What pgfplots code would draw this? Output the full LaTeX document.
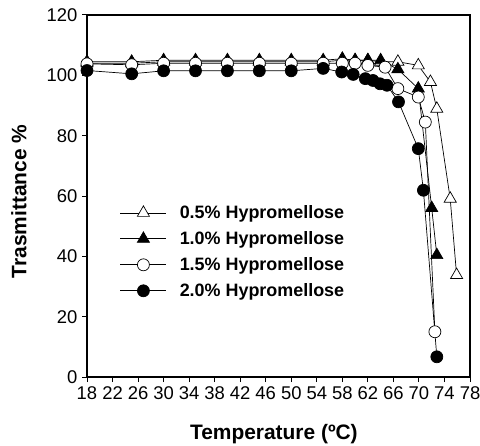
\documentclass[border=0pt]{standalone}
\usepackage{fontspec}
\setmainfont{Liberation Sans}
\usepackage{pgfplots}
\pgfplotsset{compat=1.18}
\newcommand\tlf{\fontsize{18.5}{21}\selectfont}
\begin{document}
\begin{tikzpicture}
\begin{axis}[
  scale only axis,
  width=383bp, height=362bp,
  xmin=18, xmax=78, ymin=0, ymax=120,
  xtick={18,22,...,78},
  ytick={0,20,...,120},
  axis line style={line width=1.1pt},
  tick style={line width=1pt, black},
  tick align=outside,
  major tick length=5bp,
  xtick pos=bottom, ytick pos=left,
  /pgf/number format/assume math mode=true,
  xticklabel={\tlf\pgfmathprintnumber{\tick}},
  yticklabel={\tlf\pgfmathprintnumber{\tick}},
  xticklabel style={yshift=-1bp},
  yticklabel style={xshift=-1bp},
  xlabel={\textbf{Temperature (ºC)}},
  ylabel={\textbf{Trasmittance \%}},
  label style={font=\fontsize{21}{25}\selectfont},
  xlabel style={at={(axis description cs:0.488,-0.157)}, anchor=center},
  ylabel style={at={(axis description cs:-0.178,0.485)}, anchor=center},
  legend style={draw=none, fill=none, at={(axis description cs:0.078,0.485)}, anchor=north west,
    font=\fontsize{18}{22}\selectfont\bfseries, row sep=7.5bp,
    /tikz/every odd column/.append style={column sep=11bp}},
  legend cell align=left,
  legend image code/.code={%
    \draw[mark repeat=2,mark phase=2] plot coordinates {(0bp,0bp)(23bp,0bp)(46bp,0bp)};},
  every axis plot/.append style={black, line width=0.7pt, mark options={solid, line width=0.8pt}},
]
\addplot[mark=triangle*, mark size=7bp, mark options={fill=white}] coordinates {
(18,104) (25,104) (30,104.5) (35,104.5) (40,104.5) (45,104.5) (50,104.5) (55,104.5)
(58,105) (60,105) (62,105) (64,104.5) (66.7,104.5) (69.9,103.3) (71.8,97.8) (72.8,88.9) (74.9,59.1) (75.9,33.8)};
\addlegendentry{0.5\% Hypromellose}
\addplot[mark=triangle*, mark size=7bp, mark options={fill=black}] coordinates {
(18,104.5) (25,104.5) (30,105) (35,105) (40,105) (45,105) (50,105) (55,105)
(58,105.5) (60,105) (62,105) (64,105) (66.7,102) (69.9,95.6) (72,56) (72.8,40.4)};
\addlegendentry{1.0\% Hypromellose}
\addplot[mark=*, mark size=6bp, mark options={fill=white}] coordinates {
(18,103.8) (25,103.5) (30,104) (35,104) (40,104) (45,104) (50,104) (55,104)
(58,104) (60,104) (62,103.3) (64.7,102.7) (66.7,95.6) (69.9,92.8) (71,84.5) (72.5,15)};
\addlegendentry{1.5\% Hypromellose}
\addplot[mark=*, mark size=6bp, mark options={fill=black}] coordinates {
(18,101.6) (25,100.5) (30,101.5) (35,101.5) (40,101.5) (45,101.5) (50,101.5) (55,102.3)
(57.9,101.1) (59.7,100.3) (61.6,98.9) (62.8,98.3) (63.9,97.2) (65,96.7) (66.8,91.2) (69.9,75.7) (70.7,61.9) (72.8,6.7)};
\addlegendentry{2.0\% Hypromellose}
\end{axis}
\pgfresetboundingbox
\path ([shift={(-87bp,-68bp)}]current axis.south west) rectangle ([shift={(10bp,15bp)}]current axis.north east);
\end{tikzpicture}
\end{document}
